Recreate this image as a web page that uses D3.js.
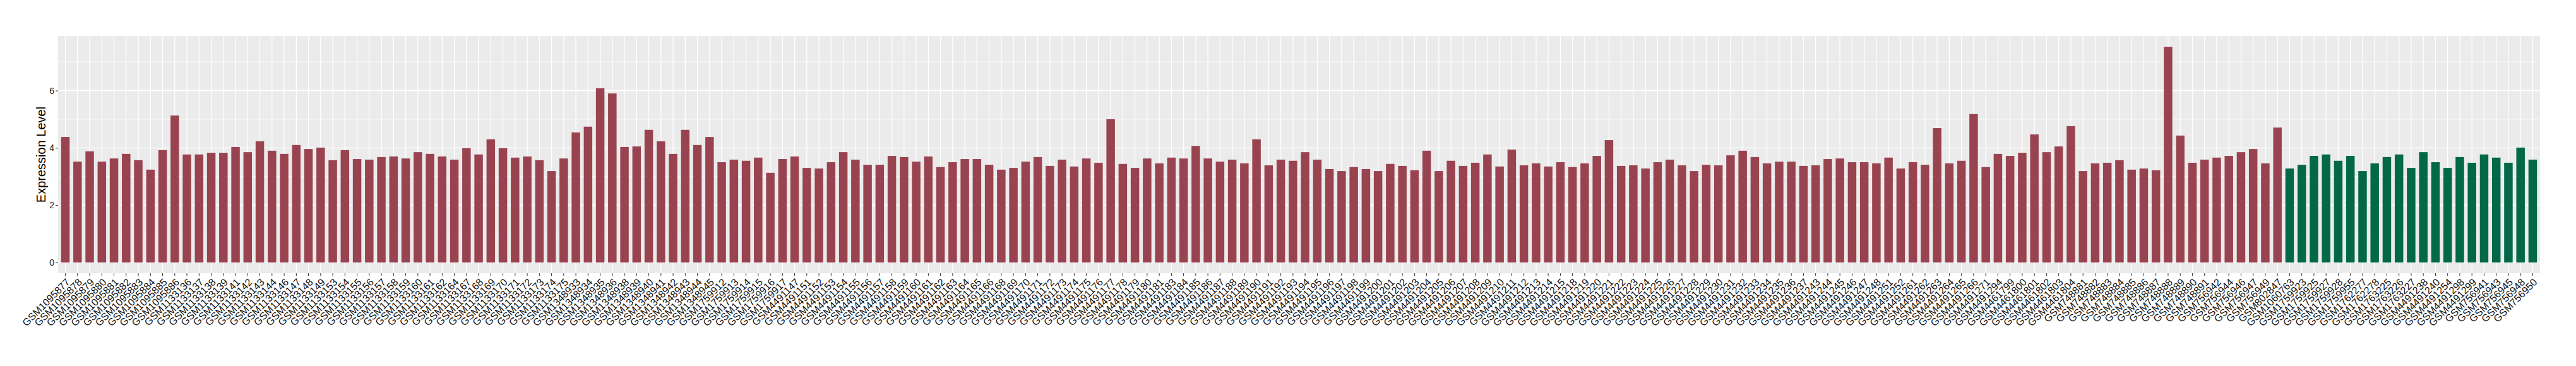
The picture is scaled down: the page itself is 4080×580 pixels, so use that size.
<!DOCTYPE html>
<html><head><meta charset="utf-8">
<script src="https://cdn.jsdelivr.net/npm/d3@7"></script>
<style>body{margin:0;background:#fff}</style>
</head><body>
<svg id="chart" width="4080" height="580"></svg>
<script>
const redSamples = [
"GSM1095877","GSM1095878","GSM1095879","GSM1095880","GSM1095881","GSM1095882","GSM1095883","GSM1095884","GSM1095885","GSM1095886",
"GSM1133136","GSM1133137","GSM1133138","GSM1133139","GSM1133141","GSM1133142","GSM1133143","GSM1133144","GSM1133146","GSM1133147","GSM1133148","GSM1133149",
"GSM1133153","GSM1133154","GSM1133155","GSM1133156","GSM1133157","GSM1133158","GSM1133159","GSM1133160","GSM1133161","GSM1133162","GSM1133164",
"GSM1133167","GSM1133168","GSM1133169","GSM1133170","GSM1133171","GSM1133172","GSM1133173","GSM1133174","GSM1133175",
"GSM1348933","GSM1348934","GSM1348935","GSM1348936","GSM1348938","GSM1348939","GSM1348940","GSM1348941","GSM1348942","GSM1348943","GSM1348944","GSM1348945",
"GSM1759912","GSM1759913","GSM1759914","GSM1759915","GSM1759916","GSM1759917",
"GSM4491147",
"GSM4491151","GSM4491152","GSM4491153","GSM4491154","GSM4491155","GSM4491156","GSM4491157","GSM4491158","GSM4491159","GSM4491160","GSM4491161","GSM4491162","GSM4491163","GSM4491164","GSM4491165","GSM4491166",
"GSM4491168","GSM4491169","GSM4491170","GSM4491171","GSM4491172","GSM4491173","GSM4491174","GSM4491175","GSM4491176","GSM4491177","GSM4491178","GSM4491179","GSM4491180","GSM4491181",
"GSM4491183","GSM4491184","GSM4491185","GSM4491186","GSM4491187","GSM4491188","GSM4491189","GSM4491190",
"GSM4491191","GSM4491192","GSM4491193","GSM4491194","GSM4491195","GSM4491196","GSM4491197","GSM4491198","GSM4491199",
"GSM4491200","GSM4491201","GSM4491202","GSM4491203","GSM4491204","GSM4491205","GSM4491206","GSM4491207","GSM4491208","GSM4491209","GSM4491210","GSM4491211","GSM4491212","GSM4491213","GSM4491214","GSM4491215",
"GSM4491218","GSM4491219","GSM4491220","GSM4491221","GSM4491222","GSM4491223","GSM4491224","GSM4491225","GSM4491226","GSM4491227","GSM4491228","GSM4491229","GSM4491230","GSM4491231",
"GSM4491232","GSM4491233","GSM4491234","GSM4491235","GSM4491236","GSM4491237",
"GSM4491243","GSM4491244","GSM4491245","GSM4491246","GSM4491247","GSM4491248",
"GSM4491251","GSM4491252",
"GSM4491261","GSM4491262","GSM4491263","GSM4491264","GSM4491265","GSM4491266",
"GSM4491271","GSM4491294",
"GSM4461799","GSM4461800","GSM4461801","GSM4461802","GSM4461803","GSM4461804",
"GSM748881","GSM748882","GSM748883","GSM748884","GSM748885","GSM748886","GSM748887","GSM748888","GSM748889","GSM748890","GSM748891",
"GSM756942","GSM756944","GSM756946","GSM756947","GSM756949","GSM802847"
];
const redValues = [
4.38,3.52,3.88,3.52,3.63,3.79,3.57,3.24,3.92,5.13,3.77,3.77,3.83,3.83,4.03,3.85,4.23,3.90,3.79,4.10,
3.96,4.01,3.57,3.92,3.61,3.59,3.68,3.70,3.63,3.85,3.79,3.70,3.59,3.99,3.77,4.30,3.99,3.66,3.70,3.57,
3.19,3.63,4.54,4.74,6.08,5.90,4.03,4.05,4.63,4.23,
3.79,4.63,4.10,4.38,3.50,3.59,3.55,3.66,3.13,3.61,
3.70,3.30,3.28,3.50,3.85,3.59,3.41,3.41,3.72,3.68,
3.52,3.70,3.33,3.50,3.61,3.61,3.41,3.24,3.30,3.52,
3.68,3.37,3.59,3.35,3.63,3.48,5.00,3.44,3.30,3.63,
3.46,3.66,3.63,4.07,3.63,3.52,3.59,3.46,4.30,3.39,
3.59,
3.55,3.85,3.59,3.26,3.19,3.33,3.26,3.19,3.44,3.37,
3.22,3.90,3.19,3.55,3.37,3.48,3.77,3.35,3.94,3.39,
3.46,3.35,3.50,3.33,3.46,3.72,4.27,3.37,3.39,3.28,
3.50,3.59,3.39,3.19,3.41,3.39,3.74,3.90,3.68,3.46,
3.52,3.52,3.37,3.39,3.61,3.63,3.50,3.50,3.46,3.66,
3.28,
3.50,3.41,4.69,3.46,3.55,5.18,3.33,3.79,3.72,3.83,
4.47,3.85,4.05,4.76,3.19,3.46,3.48,3.57,3.24,3.28,
3.22,7.53,4.43,3.48,3.59,3.66,3.72,3.85,3.96,3.46,
4.71
];
const greenSamples = [
"GSM1060763","GSM1759923","GSM1759925","GSM1759927","GSM1759928","GSM1759955",
"GSM1762277","GSM1762278","GSM1763225","GSM1763226","GSM1763227",
"GSM4491238","GSM4491240","GSM4491254","GSM4491298","GSM4491299",
"GSM756941","GSM756943","GSM756945","GSM756948","GSM756950"
];
const greenValues = [3.28,3.41,3.72,3.77,3.55,3.72,3.19,3.46,3.68,3.77,3.30,3.85,3.50,3.30,3.68,3.48,3.77,3.66,3.48,4.01,3.59];
const groupColors = {red: "#9a4350", green: "#036848"};
const yMajorTicks = [0, 2, 4, 6];
const yMinorTicks = [1, 3, 5, 7];
const yAxisTitle = "Expression Level";

const data = redSamples.map((s, i) => ({id: s, v: redValues[i], g: "red"}))
  .concat(greenSamples.map((s, i) => ({id: s, v: greenValues[i], g: "green"})));

const svg = d3.select("#chart");
const P = {left: 92, right: 4023, top: 57, bottom: 433};

const maxV = d3.max(data, d => d.v);
const padY = maxV * 0.05;
const y = d3.scaleLinear().domain([-padY, maxV + padY]).range([P.bottom, P.top]);
const x = d3.scaleBand().domain(data.map((d, i) => i)).range([P.left, P.right])
  .paddingInner(0.3).paddingOuter(0.25);
const cx = i => x(i) + x.bandwidth() / 2;

svg.append("rect").attr("x", P.left).attr("y", P.top)
  .attr("width", P.right - P.left).attr("height", P.bottom - P.top).attr("fill", "#ebebeb");

const grid = svg.append("g");
grid.selectAll(".ymin").data(yMinorTicks).join("line")
  .attr("x1", P.left).attr("x2", P.right).attr("y1", d => y(d)).attr("y2", d => y(d))
  .attr("stroke", "#fff").attr("stroke-width", 0.7);
grid.selectAll(".ymaj").data(yMajorTicks).join("line")
  .attr("x1", P.left).attr("x2", P.right).attr("y1", d => y(d)).attr("y2", d => y(d))
  .attr("stroke", "#fff").attr("stroke-width", 1.4);
grid.selectAll(".xmaj").data(data).join("line")
  .attr("x1", (d, i) => cx(i)).attr("x2", (d, i) => cx(i)).attr("y1", P.top).attr("y2", P.bottom)
  .attr("stroke", "#fff").attr("stroke-width", 1.3);

svg.append("g").selectAll("rect").data(data).join("rect")
  .attr("x", (d, i) => x(i)).attr("width", x.bandwidth())
  .attr("y", d => y(d.v)).attr("height", d => y(0) - y(d.v))
  .attr("fill", d => groupColors[d.g]);

// y axis
const yAxis = d3.axisLeft(y).tickValues(yMajorTicks).tickSize(4).tickPadding(2).tickFormat(d3.format("d"));
const gy = svg.append("g").attr("transform", `translate(${P.left},0)`).call(yAxis);
gy.select(".domain").remove();
gy.selectAll(".tick line").attr("stroke", "#333").attr("stroke-width", 1);
gy.selectAll(".tick text").attr("font-family", "'Liberation Sans', Arial, sans-serif")
  .attr("font-size", 14).attr("fill", "#222");

// x axis
const xAxis = d3.axisBottom(x).tickSize(4).tickFormat(i => data[i].id);
const gx = svg.append("g").attr("transform", `translate(0,${P.bottom})`).call(xAxis);
gx.select(".domain").remove();
gx.selectAll(".tick line").attr("stroke", "#333").attr("stroke-width", 1);
gx.selectAll(".tick text")
  .attr("font-family", "'Liberation Sans', Arial, sans-serif").attr("font-size", 16).attr("fill", "#111")
  .attr("text-anchor", "end").attr("y", 0).attr("dy", "0.72em")
  .attr("transform", "translate(0,7) rotate(-45)");

svg.append("text").attr("transform", `translate(72,${(P.top + P.bottom) / 2}) rotate(-90)`)
  .attr("text-anchor", "middle").attr("font-family", "'Liberation Sans', Arial, sans-serif")
  .attr("font-size", 20).attr("fill", "#000").text(yAxisTitle);
</script>
</body></html>
